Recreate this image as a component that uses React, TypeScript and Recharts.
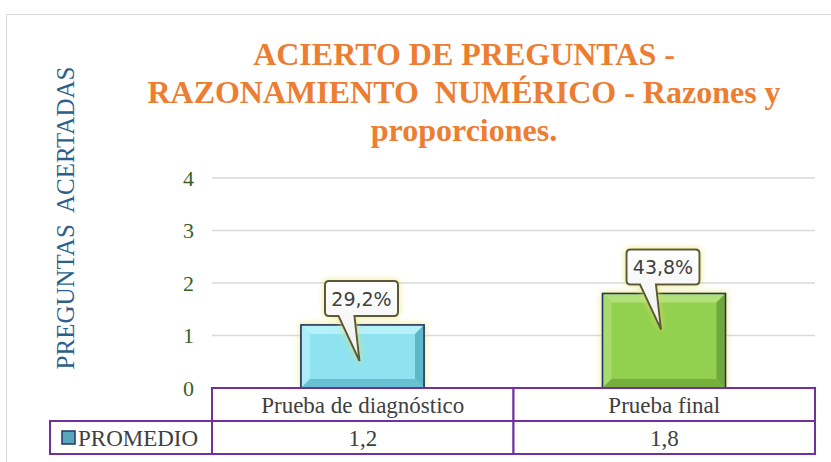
import React from "react";
import {
	BarChart,
	Bar,
	XAxis,
	YAxis,
	CartesianGrid,
	LabelList,
} from "recharts";

const categories = ["Prueba de diagnóstico", "Prueba final"];
const promedio = [1.2, 1.8];
const percentLabels = ["29,2%", "43,8%"];
const yTicks = [0, 1, 2, 3, 4];
const titleLines = [
	"ACIERTO DE PREGUNTAS -",
	"RAZONAMIENTO  NUMÉRICO - Razones y",
	"proporciones.",
];
const seriesName = "PROMEDIO";
const yAxisTitle = "PREGUNTAS  ACERTADAS";

const barColors = [
	{ base: "#8fe3f1", light: "#b6f0f8", dark: "#5cb8c8" },
	{ base: "#92d050", light: "#b0e07a", dark: "#6ea83a" },
];

const data = categories.map((name, i) => ({
	name,
	value: promedio[i],
	pct: percentLabels[i],
}));

const W = 831;
const H = 462;
const PLOT_LEFT = 212;
const PLOT_RIGHT = 815;
const PURPLE = "#7030a0";
const fmt = (v: number) => v.toFixed(1).replace(".", ",");

const BevelBar = (props: any) => {
	const { x, y, width, height, index } = props;
	const c = barColors[index % barColors.length];
	const b = Math.min(9, height / 3);
	return (
		<g filter="url(#glow)">
			<rect x={x} y={y} width={width} height={height} fill={c.base} stroke="#1f3864" strokeWidth={1.5} />
			<polygon points={`${x},${y} ${x + width},${y} ${x + width - b},${y + b} ${x + b},${y + b}`} fill={c.light} />
			<polygon points={`${x},${y} ${x + b},${y + b} ${x + b},${y + height - b} ${x},${y + height}`} fill={c.light} opacity={0.7} />
			<polygon points={`${x + width},${y} ${x + width},${y + height} ${x + width - b},${y + height - b} ${x + width - b},${y + b}`} fill={c.dark} />
			<polygon points={`${x},${y + height} ${x + b},${y + height - b} ${x + width - b},${y + height - b} ${x + width},${y + height}`} fill={c.dark} opacity={0.8} />
			<rect x={x} y={y} width={width} height={height} fill="none" stroke="#1f3864" strokeWidth={1.5} />
		</g>
	);
};

const Callout = (props: any) => {
	const { x, y, width, value } = props;
	const cx = x + width / 2;
	const bw = 73;
	const bh = 35;
	const bx = cx - bw / 2 - 1;
	const by = y - bh - 9;
	const tipX = cx - 3;
	const tipY = y + 36;
	return (
		<g>
			<g filter="url(#glow)">
				<path
					d={`M${bx + 4},${by} H${bx + bw - 4} Q${bx + bw},${by} ${bx + bw},${by + 4} V${by + bh - 4} Q${bx + bw},${by + bh} ${bx + bw - 4},${by + bh} H${cx - 8} L${tipX},${tipY} L${cx - 24},${by + bh} H${bx + 4} Q${bx},${by + bh} ${bx},${by + bh - 4} V${by + 4} Q${bx},${by} ${bx + 4},${by} Z`}
					fill="url(#calloutFill)"
					stroke="#5a5a3a"
					strokeWidth={2}
				/>
			</g>
			<text
				x={cx - 1}
				y={by + bh / 2 + 7}
				textAnchor="middle"
				fontFamily="'DejaVu Sans', sans-serif"
				fontSize={19}
				fill="#404040"
			>
				{value}
			</text>
		</g>
	);
};

const TableTick = (props: any) => {
	const { x, y, index } = props;
	const band = (PLOT_RIGHT - PLOT_LEFT) / categories.length;
	const top = y;
	const rowH = 33;
	const left = x - band / 2;
	return (
		<g fontFamily="'Liberation Serif', serif" fill="#404040">
			<rect x={left} y={top} width={band} height={rowH} fill="white" stroke={PURPLE} strokeWidth={2} />
			<rect x={left} y={top + rowH} width={band} height={rowH} fill="white" stroke={PURPLE} strokeWidth={2} />
			<text x={x} y={top + 25} textAnchor="middle" fontSize={23} fill="#404040">
				{categories[index]}
			</text>
			<text x={x} y={top + rowH + 25} textAnchor="middle" fontSize={23} fill="#404040">
				{fmt(promedio[index])}
			</text>
			{index === 0 && (
				<g>
					<rect x={50} y={top + rowH} width={left - 50} height={rowH} fill="white" stroke={PURPLE} strokeWidth={2} />
					<rect x={62} y={top + rowH + 10} width={13} height={13} fill="#5aa7bd" stroke="#1f3864" strokeWidth={1.5} />
					<text x={78} y={top + rowH + 25} fontSize={23} fill="#404040">
						{seriesName}
					</text>
				</g>
			)}
		</g>
	);
};

export default function App() {
	return (
		<div style={{ position: "fixed", left: 0, top: 0, width: W, height: H, background: "white" }}>
			<div
				style={{
					position: "absolute",
					left: 6,
					top: 14,
					width: W,
					height: H,
					border: "1.5px solid #d9d9d9",
					boxSizing: "border-box",
				}}
			/>
			<BarChart
				width={W}
				height={H}
				data={data}
				margin={{ top: 178, right: W - PLOT_RIGHT, bottom: 0, left: PLOT_LEFT - 40 }}
				barSize={123}
				style={{ position: "absolute", left: 0, top: 0 }}
			>
				<defs>
					<filter id="glow" x="-30%" y="-30%" width="160%" height="160%">
						<feDropShadow dx="0" dy="0" stdDeviation="3" floodColor="#e8e060" floodOpacity="0.8" />
					</filter>
					<linearGradient id="calloutFill" x1="0" y1="0" x2="0" y2="1">
						<stop offset="0%" stopColor="#ffffff" />
						<stop offset="100%" stopColor="#eeeeee" />
					</linearGradient>
				</defs>
				<CartesianGrid vertical={false} stroke="#d9d9d9" strokeWidth={1.5} />
				<XAxis
					dataKey="name"
					axisLine={false}
					tickLine={false}
					tickSize={0}
					tickMargin={0}
					height={74}
					interval={0}
					tick={<TableTick />}
				/>
				<YAxis
					width={40}
					domain={[0, 4]}
					ticks={yTicks}
					axisLine={false}
					tickLine={false}
					tickMargin={12}
					tick={{ fill: "#3b5f2a", fontSize: 22, fontFamily: "'Liberation Serif', serif" }}
				/>
				<Bar dataKey="value" shape={<BevelBar />} isAnimationActive={false}>
					<LabelList dataKey="pct" content={<Callout />} />
				</Bar>
			</BarChart>
			<svg width={W} height={H} style={{ position: "absolute", left: 0, top: 0, pointerEvents: "none" }}>
				{titleLines.map((t, i) => (
					<text
						key={i}
						x={464}
						y={65 + i * 38}
						textAnchor="middle"
						fontFamily="'Liberation Serif', serif"
						fontWeight="bold"
						fontSize={32}
						fill="#ed7d31"
						style={{ whiteSpace: "pre" }}
					>
						{t}
					</text>
				))}
				<text
					x={74}
					y={218}
					transform="rotate(-90 74 218)"
					textAnchor="middle"
					fontFamily="'Liberation Serif', serif"
					fontSize={25}
					fill="#2e5f8a"
					style={{ whiteSpace: "pre" }}
				>
					{yAxisTitle}
				</text>
			</svg>
		</div>
	);
}
